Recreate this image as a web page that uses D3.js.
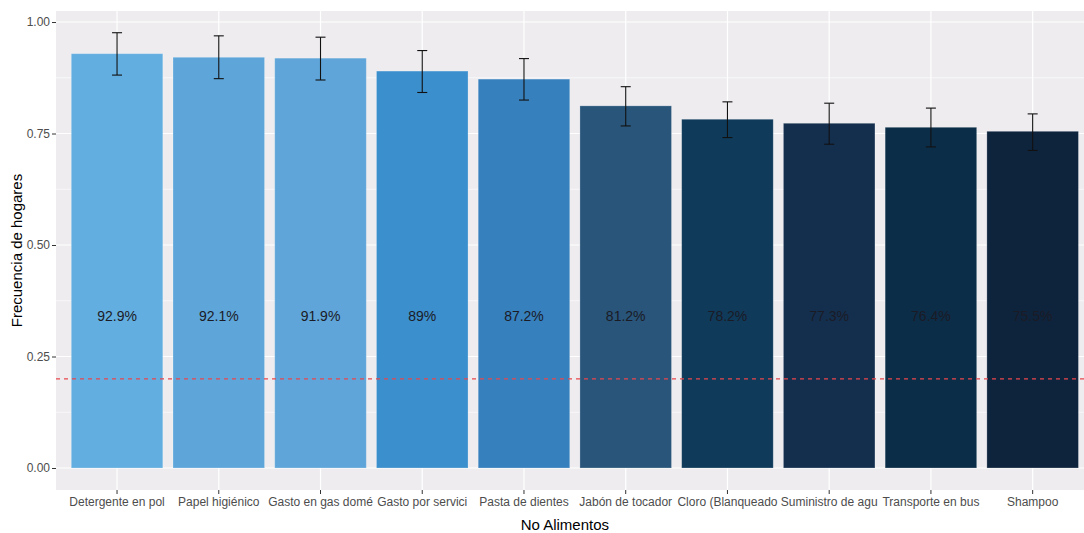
<!DOCTYPE html>
<html>
<head>
<meta charset="utf-8">
<script src="https://cdn.jsdelivr.net/npm/d3@7"></script>
<style>
  body { margin: 0; background: #fff; }
  text { font-family: "Liberation Sans", Arial, sans-serif; }
</style>
</head>
<body>
<svg id="chart" width="1084" height="533"></svg>
<script>
var categories = ["Detergente en pol", "Papel higiénico", "Gasto en gas domé", "Gasto por servici",
  "Pasta de dientes", "Jabón de tocador", "Cloro (Blanqueado", "Suministro de agu",
  "Transporte en bus", "Shampoo"];
var values = [0.929, 0.921, 0.919, 0.890, 0.872, 0.812, 0.782, 0.773, 0.764, 0.755];
var errLow = [0.881, 0.873, 0.870, 0.842, 0.825, 0.767, 0.741, 0.726, 0.720, 0.712];
var errHigh = [0.976, 0.969, 0.966, 0.936, 0.918, 0.855, 0.821, 0.818, 0.807, 0.794];
var labels = ["92.9%", "92.1%", "91.9%", "89%", "87.2%", "81.2%", "78.2%", "77.3%", "76.4%", "75.5%"];
var barColors = ["#63aee0", "#5ea6da", "#5fa5d9", "#3b8fcc", "#3680be",
  "#285579", "#0f3a5a", "#142f4e", "#0c2d48", "#0e243d"];
var yTicks = [0, 0.25, 0.5, 0.75, 1];
var yMinor = [0.125, 0.375, 0.625, 0.875];
var refLine = 0.2;
var labelY = 0.34;

var svg = d3.select("#chart"),
    panel = {left: 56, right: 1093.7, top: 11, bottom: 490};

var x = d3.scaleBand()
    .domain(categories)
    .range([panel.left, panel.right])
    .paddingInner(0.1)
    .paddingOuter(0.15);

var y = d3.scaleLinear()
    .domain([-0.0493, 1.0247])
    .range([panel.bottom, panel.top]);

// panel background
svg.append("rect")
    .attr("x", panel.left).attr("y", panel.top)
    .attr("width", panel.right - panel.left).attr("height", panel.bottom - panel.top)
    .attr("fill", "#eeecef");

var grid = svg.append("g");
grid.selectAll(".minor").data(yMinor).enter().append("line")
    .attr("x1", panel.left).attr("x2", panel.right)
    .attr("y1", function(d) { return y(d); }).attr("y2", function(d) { return y(d); })
    .attr("stroke", "#fff").attr("stroke-width", 0.6);
grid.selectAll(".major").data(yTicks).enter().append("line")
    .attr("x1", panel.left).attr("x2", panel.right)
    .attr("y1", function(d) { return y(d); }).attr("y2", function(d) { return y(d); })
    .attr("stroke", "#fff").attr("stroke-width", 1.2);
grid.selectAll(".vmajor").data(categories).enter().append("line")
    .attr("x1", function(d) { return x(d) + x.bandwidth() / 2; })
    .attr("x2", function(d) { return x(d) + x.bandwidth() / 2; })
    .attr("y1", panel.top).attr("y2", panel.bottom)
    .attr("stroke", "#fff").attr("stroke-width", 1.2);

// bars
svg.selectAll(".bar").data(values).enter().append("rect")
    .attr("x", function(d, i) { return x(categories[i]); })
    .attr("y", function(d) { return y(d); })
    .attr("width", x.bandwidth())
    .attr("height", function(d) { return y(0) - y(d); })
    .attr("fill", function(d, i) { return barColors[i]; })
    .attr("stroke", "rgba(255,255,255,0.3)")
    .attr("stroke-width", 0.8);

// error bars
var eb = svg.append("g").attr("stroke", "#111").attr("stroke-width", 1.1);
values.forEach(function(v, i) {
  var cx = x(categories[i]) + x.bandwidth() / 2;
  eb.append("line").attr("x1", cx).attr("x2", cx).attr("y1", y(errLow[i])).attr("y2", y(errHigh[i]));
  eb.append("line").attr("x1", cx - 5).attr("x2", cx + 5).attr("y1", y(errLow[i])).attr("y2", y(errLow[i]));
  eb.append("line").attr("x1", cx - 5).attr("x2", cx + 5).attr("y1", y(errHigh[i])).attr("y2", y(errHigh[i]));
});

// value labels
svg.selectAll(".lab").data(labels).enter().append("text")
    .attr("x", function(d, i) { return x(categories[i]) + x.bandwidth() / 2; })
    .attr("y", y(labelY))
    .attr("dy", "0.35em")
    .attr("text-anchor", "middle")
    .attr("font-size", 14)
    .attr("fill", "#1b1b26")
    .text(function(d) { return d; });

// reference line
svg.append("line")
    .attr("x1", panel.left).attr("x2", panel.right)
    .attr("y1", y(refLine)).attr("y2", y(refLine))
    .attr("stroke", "#e8474c").attr("stroke-width", 1.2)
    .attr("stroke-dasharray", "4,4");

// axes
var yAxis = d3.axisLeft(y).tickValues(yTicks).tickFormat(d3.format(".2f")).tickSize(4).tickPadding(2);
var gy = svg.append("g").attr("transform", "translate(" + panel.left + ",0)").call(yAxis);
gy.select(".domain").remove();
gy.selectAll("line").attr("stroke", "#333");
gy.selectAll("text").attr("fill", "#4d4d4d").attr("font-size", 12);

var xAxis = d3.axisBottom(x).tickSize(4).tickPadding(3);
var gx = svg.append("g").attr("transform", "translate(0," + panel.bottom + ")").call(xAxis);
gx.select(".domain").remove();
gx.selectAll("line").attr("stroke", "#333");
gx.selectAll("text").attr("fill", "#4d4d4d").attr("font-size", 12);

// titles
svg.append("text")
    .attr("x", (panel.left + panel.right) / 2 - 10)
    .attr("y", 530)
    .attr("text-anchor", "middle")
    .attr("font-size", 15)
    .attr("fill", "#000")
    .text("No Alimentos");

svg.append("text")
    .attr("transform", "translate(22," + (panel.top + panel.bottom) / 2 + ") rotate(-90)")
    .attr("text-anchor", "middle")
    .attr("font-size", 15)
    .attr("fill", "#000")
    .text("Frecuencia de hogares");
</script>
</body>
</html>
